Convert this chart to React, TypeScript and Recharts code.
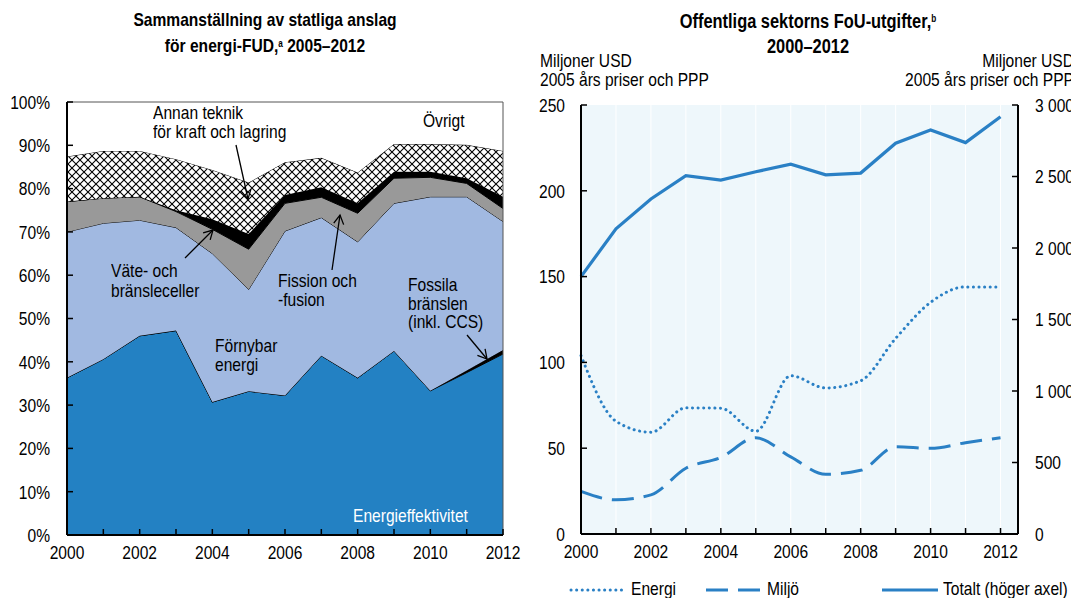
import React from 'react';
import { AreaChart, Area, XAxis, YAxis, LineChart, Line, CartesianGrid, ReferenceLine } from 'recharts';

const FONT = '"Liberation Sans", Arial, sans-serif';
const NARROW = 0.82; // emulate Arial Narrow

// ---------- Left chart data (share of energy RD&D, %) ----------
const years = [2000, 2001, 2002, 2003, 2004, 2005, 2006, 2007, 2008, 2009, 2010, 2011, 2012];
const energieffektivitet = [36.3, 40.6, 46.0, 47.2, 30.7, 33.2, 32.2, 41.4, 36.3, 42.5, 33.3, 37.5, 41.8];
const fossila = [0, 0, 0, 0, 0, 0, 0, 0, 0, 0, 0, 0.5, 0.9];
const fornybar = [33.7, 31.4, 26.7, 23.8, 34.3, 23.5, 38.0, 31.9, 31.4, 34.1, 44.8, 40.1, 29.7];
const fission = [7.0, 5.8, 5.4, 3.7, 5.6, 9.3, 6.4, 4.7, 6.6, 5.8, 4.5, 3.1, 3.0];
const vate = [0, 0, 0, 0.3, 2.3, 3.5, 1.9, 2.3, 2.3, 1.5, 1.3, 1.2, 2.7];
const annan = [10.4, 10.9, 10.6, 11.8, 11.4, 11.9, 7.6, 6.8, 7.1, 6.4, 6.4, 7.7, 10.6];
const ovrigt = [12.6, 11.3, 11.3, 13.2, 15.7, 18.6, 13.9, 12.9, 16.3, 9.7, 9.7, 9.9, 11.3];
const percentTicks = [0, 10, 20, 30, 40, 50, 60, 70, 80, 90, 100];

// ---------- Right chart data (MUSD, 2005 prices & PPP) ----------
const energi = [104, 65.7, 59.3, 73.5, 73.3, 59.9, 92.2, 85.1, 89.3, 114, 135, 144, 144];
const miljo = [24.8, 19.9, 22.8, 38.3, 44.6, 56.1, 44.9, 34.8, 37.1, 50.9, 49.9, 53.2, 56.1];
const totalt = [1800, 2134, 2343, 2505, 2475, 2533, 2586, 2512, 2524, 2733, 2825, 2737, 2918];
const leftMusdTicks = [0, 50, 100, 150, 200, 250];
const rightMusdTicks = [0, 500, 1000, 1500, 2000, 2500, 3000];
const legendNames = ['Energi', 'Miljö', 'Totalt (höger axel)'];

const areaData = years.map((year, i) => ({
  year,
  energieffektivitet: energieffektivitet[i],
  fossila: fossila[i],
  fornybar: fornybar[i],
  fission: fission[i],
  vate: vate[i],
  annan: annan[i],
  ovrigt: ovrigt[i],
}));

const lineData = years.map((year, i) => ({ year, energi: energi[i], miljo: miljo[i], totalt: totalt[i] }));

const BLUE = '#2a80c5';
const DARK = '#2381c3';
const LIGHT = '#a1b9e1';
const GREY = '#999999';

const fmtThousands = (v: number) =>
  v >= 1000 ? `${Math.floor(v / 1000)} ${String(v % 1000).padStart(3, '0')}` : String(v);

const NText = ({ x, y, anchor, children }: any) => (
  <text
    transform={`translate(${x} ${y}) scale(${NARROW} 1)`}
    x={0}
    y={0}
    textAnchor={anchor}
    fontSize={19}
    fontFamily={FONT}
    fill="#000"
  >
    {children}
  </text>
);

const BottomTick = (props: any) => {
  const { x, y, payload } = props;
  const v = payload.value;
  return (
    <g>
      <line x1={x} y1={y} x2={x} y2={y - 6} stroke="#000" strokeWidth={1.5} />
      {v % 2 === 0 && (
        <NText x={x} y={y + 24} anchor="middle">
          {v}
        </NText>
      )}
    </g>
  );
};

const makeLeftTick = (fmt: (v: number) => string, gap: number) => (props: any) => {
  const { x, y, payload } = props;
  return (
    <g>
      <line x1={x} y1={y} x2={x + 6} y2={y} stroke="#000" strokeWidth={1.5} />
      <NText x={x - gap} y={y + 6.8} anchor="end">
        {fmt(payload.value)}
      </NText>
    </g>
  );
};

const RightTick = (props: any) => {
  const { x, y, payload } = props;
  return (
    <g>
      <line x1={x} y1={y} x2={x - 6} y2={y} stroke="#000" strokeWidth={1.5} />
      <NText x={x + 17} y={y + 6.8} anchor="start">
        {fmtThousands(payload.value)}
      </NText>
    </g>
  );
};

const Txt = ({ x, y, children, anchor = 'left', bold = false, color = '#000', w = 300, size = 19 }: any) => {
  const style: React.CSSProperties = {
    position: 'absolute',
    top: y - 8,
    height: 16,
    lineHeight: '16px',
    fontSize: size,
    fontFamily: FONT,
    fontWeight: bold ? 700 : 400,
    color,
    whiteSpace: 'nowrap',
    transform: `scaleX(${NARROW})`,
  };
  if (anchor === 'left') {
    style.left = x;
    style.transformOrigin = 'left center';
  }
  if (anchor === 'center') {
    style.left = x - w / 2;
    style.width = w;
    style.textAlign = 'center';
    style.transformOrigin = 'center center';
  }
  if (anchor === 'right') {
    style.left = x - w;
    style.width = w;
    style.textAlign = 'right';
    style.transformOrigin = 'right center';
  }
  return <div style={style}>{children}</div>;
};

const Arrow = ({ x1, y1, x2, y2 }: any) => (
  <line x1={x1} y1={y1} x2={x2} y2={y2} stroke="#000" strokeWidth={1.3} markerEnd="url(#arrowHead)" />
);

const supStyle: React.CSSProperties = { fontSize: 10, verticalAlign: 'top', lineHeight: '12px' };

export default function App() {
  return (
    <div
      style={{
        position: 'absolute',
        left: 0,
        top: 0,
        width: 1071,
        height: 598,
        overflow: 'hidden',
        background: '#fff',
        fontFamily: FONT,
      }}
    >
      <svg width={0} height={0} style={{ position: 'absolute' }}>
        <defs>
          <pattern id="crossHatch" patternUnits="userSpaceOnUse" width={8} height={8}>
            <rect x={0} y={0} width={8} height={8} fill="#fff" />
            <path d="M-1,-1 L9,9 M9,-1 L-1,9" stroke="#000" strokeWidth={1.1} />
          </pattern>
        </defs>
      </svg>

      {/* Left chart */}
      <div style={{ position: 'absolute', left: 0, top: 0 }}>
        <AreaChart width={530} height={598} data={areaData} margin={{ top: 102, right: 27, bottom: 33, left: 7 }}>
          <XAxis
            dataKey="year"
            type="number"
            domain={[2000, 2012]}
            ticks={years}
            interval={0}
            tickSize={0}
            tickMargin={0}
            tickLine={false}
            tick={BottomTick}
            height={30}
            axisLine={{ stroke: '#000', strokeWidth: 2 }}
          />
          <YAxis
            type="number"
            domain={[0, 100]}
            ticks={percentTicks}
            interval={0}
            tickSize={0}
            tickMargin={0}
            tickLine={false}
            tick={makeLeftTick((v) => `${v}%`, 17)}
            width={60}
            axisLine={{ stroke: '#000', strokeWidth: 2 }}
          />
          <Area isAnimationActive={false} type="linear" dataKey="energieffektivitet" stackId="s" stroke="#000" strokeWidth={1} fill={DARK} fillOpacity={1} />
          <Area isAnimationActive={false} type="linear" dataKey="fossila" stackId="s" stroke="#000" strokeWidth={1} fill="#000" fillOpacity={1} />
          <Area isAnimationActive={false} type="linear" dataKey="fornybar" stackId="s" stroke="#000" strokeWidth={1} fill={LIGHT} fillOpacity={1} />
          <Area isAnimationActive={false} type="linear" dataKey="fission" stackId="s" stroke="#000" strokeWidth={1} fill={GREY} fillOpacity={1} />
          <Area isAnimationActive={false} type="linear" dataKey="vate" stackId="s" stroke="#000" strokeWidth={1} fill="#000" fillOpacity={1} />
          <Area isAnimationActive={false} type="linear" dataKey="annan" stackId="s" stroke="#000" strokeWidth={1} fill="url(#crossHatch)" fillOpacity={1} />
          <Area isAnimationActive={false} type="linear" dataKey="ovrigt" stackId="s" stroke="none" fill="#fff" fillOpacity={1} />
          <ReferenceLine y={100} stroke="#555" strokeWidth={1} />
          <ReferenceLine x={2012} stroke="#555" strokeWidth={1} />
        </AreaChart>
      </div>

      {/* Right chart */}
      <div style={{ position: 'absolute', left: 530, top: 0 }}>
        <LineChart width={560} height={598} data={lineData} margin={{ top: 105, right: 12, bottom: 34, left: 6 }}>
          <CartesianGrid yAxisId="left" horizontal={false} vertical={true} stroke="#ffffff" fill="#eef7fb" />
          <XAxis
            dataKey="year"
            type="number"
            domain={[2000, 2012.5]}
            ticks={years}
            interval={0}
            tickSize={0}
            tickMargin={0}
            tickLine={false}
            tick={BottomTick}
            height={30}
            axisLine={{ stroke: '#000', strokeWidth: 2 }}
          />
          <YAxis
            yAxisId="left"
            orientation="left"
            type="number"
            domain={[0, 250]}
            ticks={leftMusdTicks}
            interval={0}
            tickSize={0}
            tickMargin={0}
            tickLine={false}
            tick={makeLeftTick((v) => String(v), 16)}
            width={45}
            axisLine={{ stroke: '#000', strokeWidth: 2 }}
          />
          <YAxis
            yAxisId="right"
            orientation="right"
            type="number"
            domain={[0, 3000]}
            ticks={rightMusdTicks}
            interval={0}
            tickSize={0}
            tickMargin={0}
            tickLine={false}
            tick={RightTick}
            width={60}
            axisLine={{ stroke: '#000', strokeWidth: 2 }}
          />
          <Line isAnimationActive={false} yAxisId="right" type="linear" dataKey="totalt" stroke={BLUE} strokeWidth={3.2} dot={false} />
          <Line isAnimationActive={false} yAxisId="left" type="monotone" dataKey="energi" stroke={BLUE} strokeWidth={3} strokeDasharray="0.1 5.5" strokeLinecap="round" dot={false} />
          <Line isAnimationActive={false} yAxisId="left" type="monotone" dataKey="miljo" stroke={BLUE} strokeWidth={3} strokeDasharray="22 10" dot={false} />
        </LineChart>
      </div>

      {/* Titles */}
      <Txt x={265} y={20} anchor="center" bold w={500}>Sammanställning av statliga anslag</Txt>
      <Txt x={265} y={46} anchor="center" bold w={500}>
        för energi-FUD,<sup style={supStyle}>a</sup> 2005–2012
      </Txt>
      <Txt x={808} y={21} anchor="center" bold w={500} size={20}>
        Offentliga sektorns FoU-utgifter,<sup style={supStyle}>b</sup>
      </Txt>
      <Txt x={808} y={46} anchor="center" bold w={500} size={20}>2000–2012</Txt>
      <Txt x={540} y={61}>Miljoner USD</Txt>
      <Txt x={540} y={80}>2005 års priser och PPP</Txt>
      <Txt x={1074} y={61} anchor="right" w={300}>Miljoner USD</Txt>
      <Txt x={1074} y={80} anchor="right" w={300}>2005 års priser och PPP</Txt>

      {/* Left chart annotations */}
      <Txt x={153} y={113}>Annan teknik</Txt>
      <Txt x={153} y={132}>för kraft och lagring</Txt>
      <Txt x={423} y={121}>Övrigt</Txt>
      <Txt x={111} y={271}>Väte- och</Txt>
      <Txt x={111} y={291}>bränsleceller</Txt>
      <Txt x={278} y={281}>Fission och</Txt>
      <Txt x={278} y={300}>-fusion</Txt>
      <Txt x={408} y={285}>Fossila</Txt>
      <Txt x={408} y={303.5}>bränslen</Txt>
      <Txt x={408} y={322}>(inkl. CCS)</Txt>
      <Txt x={215} y={346}>Förnybar</Txt>
      <Txt x={215} y={365}>energi</Txt>
      <Txt x={353} y={516} color="#fff">Energieffektivitet</Txt>

      <svg width={1071} height={598} style={{ position: 'absolute', left: 0, top: 0, pointerEvents: 'none' }}>
        <defs>
          <marker id="arrowHead" markerWidth={12} markerHeight={12} refX={10} refY={6} orient="auto" markerUnits="userSpaceOnUse">
            <path d="M1,1 L10,6 L1,11" fill="none" stroke="#000" strokeWidth={1.3} />
          </marker>
        </defs>
        <Arrow x1={236} y1={145} x2={248} y2={199} />
        <Arrow x1={185} y1={258} x2={213} y2={230} />
        <Arrow x1={332} y1={270} x2={340} y2={215} />
        <Arrow x1={467} y1={335} x2={487} y2={359} />
      </svg>

      {/* Legend */}
      <svg width={1071} height={30} style={{ position: 'absolute', left: 0, top: 575 }}>
        <line x1={571} y1={15} x2={625} y2={15} stroke={BLUE} strokeWidth={3} strokeDasharray="0.1 5.5" strokeLinecap="round" />
        <line x1={706} y1={15} x2={762} y2={15} stroke={BLUE} strokeWidth={3} strokeDasharray="22 10" />
        <line x1={882} y1={15} x2={938} y2={15} stroke={BLUE} strokeWidth={3.2} />
      </svg>
      <Txt x={631} y={589}>{legendNames[0]}</Txt>
      <Txt x={767} y={589}>{legendNames[1]}</Txt>
      <Txt x={943} y={589}>{legendNames[2]}</Txt>
    </div>
  );
}
